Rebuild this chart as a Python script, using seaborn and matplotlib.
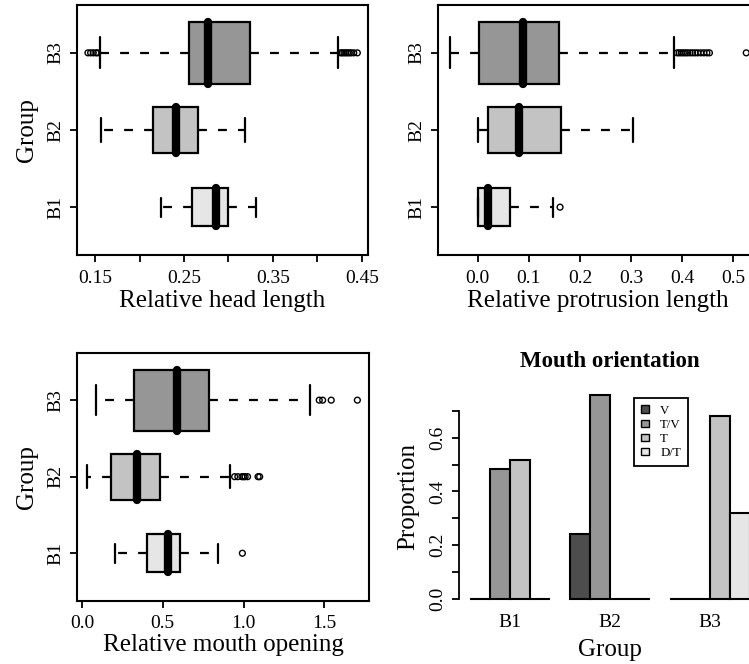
import matplotlib
matplotlib.use("Agg")
import numpy as np
import pandas as pd
import seaborn as sns
import matplotlib.pyplot as plt
from matplotlib.patches import Patch

sns.set_style("ticks")
plt.rcParams["font.family"] = ["Liberation Serif", "DejaVu Serif"]
plt.rcParams["axes.linewidth"] = 1.5
plt.rcParams["xtick.major.width"] = 1.3
plt.rcParams["ytick.major.width"] = 1.3
plt.rcParams["xtick.major.size"] = 5
plt.rcParams["ytick.major.size"] = 5
plt.rcParams["xtick.color"] = "black"
plt.rcParams["ytick.color"] = "black"
plt.rcParams["xtick.labelcolor"] = "black"
plt.rcParams["ytick.labelcolor"] = "black"
plt.rcParams["axes.edgecolor"] = "black"
plt.rcParams["text.color"] = "black"
plt.rcParams["axes.labelcolor"] = "black"

# ---------------- data ----------------
groups = ["B1", "B2", "B3"]
order = ["B3", "B2", "B1"]

# box summaries per group (B1, B2, B3): lower whisker, Q1, median, Q3, upper whisker
head_lo = [0.224, 0.1564, 0.1556]
head_q1 = [0.2585, 0.215, 0.2555]
head_med = [0.286, 0.241, 0.277]
head_q3 = [0.300, 0.266, 0.324]
head_hi = [0.331, 0.319, 0.423]
head_out_B1 = []
head_out_B2 = []
head_out_B3 = [0.142, 0.145, 0.148, 0.151, 0.153,
               0.426, 0.428, 0.430, 0.432, 0.434, 0.436, 0.438, 0.441, 0.445]

prot_lo = [0.0, 0.0, -0.054]
prot_q1 = [0.0, 0.021, 0.0025]
prot_med = [0.0196, 0.081, 0.089]
prot_q3 = [0.063, 0.163, 0.158]
prot_hi = [0.148, 0.3045, 0.384]
prot_out_B1 = [0.161]
prot_out_B2 = []
prot_out_B3 = [0.390, 0.394, 0.398, 0.402, 0.406, 0.410, 0.415, 0.420,
               0.425, 0.430, 0.436, 0.442, 0.448, 0.453, 0.525]

mouth_lo = [0.204, 0.033, 0.087]
mouth_q1 = [0.401, 0.180, 0.324]
mouth_med = [0.531, 0.342, 0.586]
mouth_q3 = [0.609, 0.483, 0.786]
mouth_hi = [0.840, 0.916, 1.410]
mouth_out_B1 = [0.993]
mouth_out_B2 = [0.945, 0.965, 0.990, 1.000, 1.010, 1.025, 1.090, 1.100]
mouth_out_B3 = [1.469, 1.490, 1.543, 1.705]

orient_levels = ["V", "T/V", "T", "D/T"]
prop_B1 = [0.0, 0.483, 0.517, 0.0]
prop_B2 = [0.240, 0.760, 0.0, 0.0]
prop_B3 = [0.0, 0.0, 0.680, 0.320]

# ---------------- style ----------------
box_colors = ["#E6E6E6", "#C3C3C3", "#969696"]   # B1, B2, B3
box_widths = [0.5, 0.6, 0.8]
bar_colors = ["#4D4D4D", "#969696", "#C3C3C3", "#E6E6E6"]
TICK_FS = 14
LAB_FS = 18

W, H = 749, 664
fig = plt.figure(figsize=(W / 100, H / 100), dpi=100)


def px_axes(x0, y0, x1, y1):
    return fig.add_axes([x0 / W, 1 - y1 / H, (x1 - x0) / W, (y1 - y0) / H])


def draw_box(ax, lo, q1, med, q3, hi, outs):
    rows = []
    for g, a, b, c, d, e in zip(groups, lo, q1, med, q3, hi):
        for v in (a, b, c, d, e):
            rows.append((g, v))
    df = pd.DataFrame(rows, columns=["group", "value"])
    for g, w, col in zip(groups, box_widths, box_colors):
        sns.boxplot(data=df[df["group"] == g], x="value", y="group", order=order,
                    width=w, whis=(0, 100), showfliers=False, color=col,
                    saturation=1, linecolor="black", linewidth=1.6,
                    medianprops=dict(color="black", linewidth=6,
                                     solid_capstyle="round"),
                    whiskerprops=dict(linestyle=(0, (4, 5)), linewidth=1.6),
                    capprops=dict(linestyle="-", linewidth=1.6),
                    ax=ax)
    orow = []
    for g, vals in zip(groups, outs):
        for v in vals:
            orow.append((g, v))
    odf = pd.DataFrame(orow, columns=["group", "value"])
    sns.stripplot(data=odf, x="value", y="group", order=order, jitter=False,
                  marker="o", size=4.2, facecolors="none", edgecolor="black",
                  linewidth=1.0, color="black", ax=ax, zorder=5)
    ax.set_ylim(2.62, -0.62)
    ax.set_yticks([0, 1, 2])
    ax.set_yticklabels(order, rotation=90, va="center", fontsize=TICK_FS)
    ax.tick_params(axis="y", pad=4)
    ax.tick_params(axis="x", pad=5.5)
    for s in ax.spines.values():
        s.set_visible(True)
        s.set_linewidth(1.5)


# ---- top-left: head length ----
ax1 = px_axes(77, 5, 368, 255)
draw_box(ax1, head_lo, head_q1, head_med, head_q3, head_hi,
         [head_out_B1, head_out_B2, head_out_B3])
ax1.set_xlim(0.1297, 0.457)
ax1.set_xticks(np.arange(0.15, 0.4501, 0.05))
ax1.set_xticklabels(["0.15", "", "0.25", "", "0.35", "", "0.45"], fontsize=TICK_FS)
ax1.set_xlabel("Relative head length", fontsize=LAB_FS, labelpad=2.5)
ax1.set_ylabel("Group", fontsize=LAB_FS, labelpad=7)

# ---- top-right: protrusion length ----
ax2 = px_axes(438.3, 5, 757, 255)
draw_box(ax2, prot_lo, prot_q1, prot_med, prot_q3, prot_hi,
         [prot_out_B1, prot_out_B2, prot_out_B3])
ax2.set_xlim(-0.077, 0.546)
ax2.set_xticks(np.arange(0, 0.501, 0.1))
ax2.set_xticklabels(["0.0", "0.1", "0.2", "0.3", "0.4", "0.5"], fontsize=TICK_FS)
ax2.set_xlabel("Relative protrusion length", fontsize=LAB_FS, labelpad=2.5)
ax2.set_ylabel("")

# ---- bottom-left: mouth opening ----
ax3 = px_axes(77, 352.7, 369, 600.7)
draw_box(ax3, mouth_lo, mouth_q1, mouth_med, mouth_q3, mouth_hi,
         [mouth_out_B1, mouth_out_B2, mouth_out_B3])
ax3.set_xlim(-0.031, 1.777)
ax3.set_xticks([0, 0.5, 1.0, 1.5])
ax3.set_xticklabels(["0.0", "0.5", "1.0", "1.5"], fontsize=TICK_FS)
ax3.set_xlabel("Relative mouth opening", fontsize=LAB_FS, labelpad=1.5)
ax3.set_ylabel("Group", fontsize=LAB_FS, labelpad=7)

# ---- bottom-right: mouth orientation ----
ax4 = px_axes(458.8, 386.2, 761, 607.2)
bar_rows = []
for g, props in zip(groups, [prop_B1, prop_B2, prop_B3]):
    for lvl, p in zip(orient_levels, props):
        bar_rows.append((g, lvl, p))
bdf = pd.DataFrame(bar_rows, columns=["group", "orientation", "prop"])
sns.barplot(data=bdf, x="group", y="prop", hue="orientation", order=groups,
            hue_order=orient_levels, palette=bar_colors, saturation=1,
            edgecolor="black", linewidth=1.5, width=0.8, errorbar=None,
            legend=False, ax=ax4)
ax4.set_xlim(-0.512, 2.512)
ax4.set_ylim(-0.0304, 0.7914)
for side in ["top", "right", "bottom"]:
    ax4.spines[side].set_visible(False)
ax4.spines["left"].set_bounds(0, 0.7)
ax4.spines["left"].set_linewidth(1.3)
ax4.set_yticks(np.arange(0, 0.701, 0.1))
ax4.set_yticklabels(["0.0", "", "0.2", "", "0.4", "", "0.6", ""],
                    rotation=90, va="center", fontsize=TICK_FS)
ax4.tick_params(axis="y", pad=4)
ax4.tick_params(axis="x", length=0, labelsize=TICK_FS, pad=5)
ax4.set_xlabel("Group", fontsize=LAB_FS, labelpad=5.5)
ax4.set_ylabel("Proportion", fontsize=LAB_FS, labelpad=7)
ax4.set_title("Mouth orientation", fontsize=16.5, fontweight="bold", pad=14)
handles = [Patch(facecolor=c, edgecolor="black", linewidth=1.0) for c in bar_colors]
ax4.legend(handles, orient_levels, loc="upper left",
           bbox_to_anchor=(634 / W, 1 - 397.5 / H), bbox_transform=fig.transFigure,
           fontsize=9.3, frameon=True, fancybox=False, edgecolor="black",
           framealpha=1, handlelength=0.62, handleheight=0.47, handletextpad=0.85,
           borderpad=0.55, labelspacing=0.17, borderaxespad=0)
ax4.get_legend().get_frame().set_linewidth(1.3)

fig.savefig("out.png", dpi=100)
